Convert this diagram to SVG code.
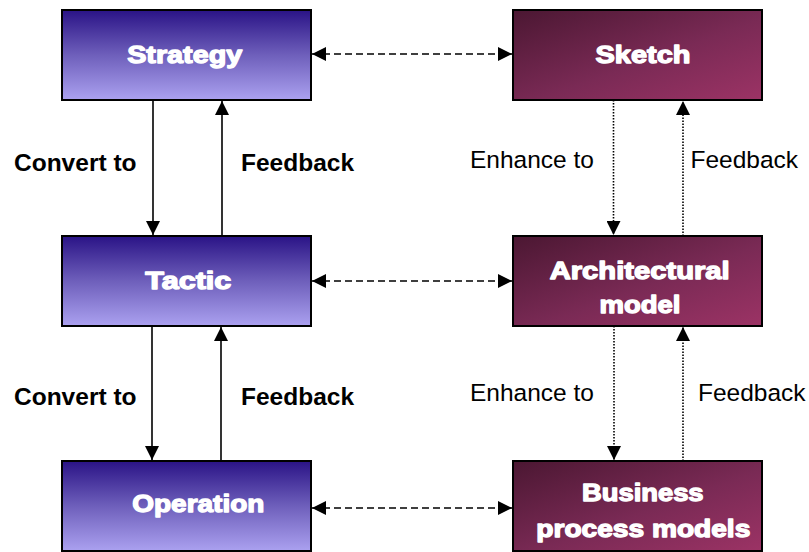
<svg xmlns="http://www.w3.org/2000/svg" width="809" height="552" viewBox="0 0 809 552">
<defs>
<linearGradient id="gBlue" x1="0" y1="0" x2="0" y2="1">
<stop offset="0" stop-color="#2a1386"/>
<stop offset="0.5" stop-color="#6e5fbb"/>
<stop offset="1" stop-color="#aba1f0"/>
</linearGradient>
<linearGradient id="gRed" x1="0" y1="0" x2="1" y2="1">
<stop offset="0" stop-color="#4b1732"/>
<stop offset="0.55" stop-color="#7a2a55"/>
<stop offset="1" stop-color="#9c3365"/>
</linearGradient>
<marker id="ah" viewBox="0 0 14 14" refX="14" refY="7" markerWidth="14" markerHeight="14" markerUnits="userSpaceOnUse" orient="auto-start-reverse">
<path d="M0,0 L14,7 L0,14 Z" fill="#000"/>
</marker>
<style>
.boxB{fill:url(#gBlue);stroke:#000;stroke-width:2}
.boxR{fill:url(#gRed);stroke:#000;stroke-width:2}
.bt{font-family:"Liberation Sans",Arial,sans-serif;font-weight:bold;font-size:23.5px;fill:#fff;stroke:#fff;stroke-width:1.3;stroke-linejoin:round;text-anchor:middle}
.lb{font-family:"Liberation Sans",Arial,sans-serif;font-weight:bold;font-size:24.5px;fill:#000}
.lr{font-family:"Liberation Sans",Arial,sans-serif;font-size:24.5px;fill:#000}
.solid{stroke:#000;stroke-width:1.6;fill:none}
.dash{stroke:#000;stroke-width:1.6;fill:none;stroke-dasharray:7 4}
.dot{stroke:#000;stroke-width:1.6;fill:none;stroke-dasharray:1.5 1.5}
</style>
</defs>
<rect width="809" height="552" fill="#fff"/>
<g id="connectors">
<line class="solid" x1="153" y1="100" x2="153" y2="235" marker-end="url(#ah)"/>
<line class="solid" x1="222" y1="236" x2="222" y2="101" marker-end="url(#ah)"/>
<line class="solid" x1="152" y1="326" x2="152" y2="460" marker-end="url(#ah)"/>
<line class="solid" x1="221" y1="461" x2="221" y2="327" marker-end="url(#ah)"/>
<line class="dot" x1="613.5" y1="100" x2="613.5" y2="235" marker-end="url(#ah)"/>
<line class="dot" x1="683" y1="236" x2="683" y2="101" marker-end="url(#ah)"/>
<line class="dot" x1="614" y1="326" x2="614" y2="460" marker-end="url(#ah)"/>
<line class="dot" x1="683" y1="461" x2="683" y2="327" marker-end="url(#ah)"/>
<line class="dash" x1="312" y1="54" x2="512" y2="54" marker-start="url(#ah)" marker-end="url(#ah)"/>
<line class="dash" x1="312" y1="281" x2="512" y2="281" marker-start="url(#ah)" marker-end="url(#ah)"/>
<line class="dash" x1="312" y1="508" x2="512" y2="508" marker-start="url(#ah)" marker-end="url(#ah)"/>
<text class="lb" x="14" y="171">Convert to</text>
<text class="lb" x="241" y="171">Feedback</text>
<text class="lr" x="470" y="168">Enhance to</text>
<text class="lr" x="690.5" y="168">Feedback</text>
<text class="lb" x="14" y="405">Convert to</text>
<text class="lb" x="241" y="405">Feedback</text>
<text class="lr" x="470" y="401">Enhance to</text>
<text class="lr" x="698" y="401">Feedback</text>
</g>
<g id="strategy">
<rect class="boxB" x="62" y="10" width="249" height="90"/>
<text class="bt" x="184.7" y="63" textLength="115" lengthAdjust="spacingAndGlyphs">Strategy</text>
</g>
<g id="tactic">
<rect class="boxB" x="62" y="236" width="249" height="90"/>
<text class="bt" x="188.3" y="289" textLength="86" lengthAdjust="spacingAndGlyphs">Tactic</text>
</g>
<g id="operation">
<rect class="boxB" x="62" y="461" width="249" height="90"/>
<text class="bt" x="198.3" y="512" textLength="132" lengthAdjust="spacingAndGlyphs">Operation</text>
</g>
<g id="sketch">
<rect class="boxR" x="513" y="10" width="249" height="90"/>
<text class="bt" x="643" y="63" textLength="95" lengthAdjust="spacingAndGlyphs">Sketch</text>
</g>
<g id="architectural-model">
<rect class="boxR" x="513" y="236" width="249" height="90"/>
<text class="bt" x="639.7" y="278.5" textLength="180" lengthAdjust="spacingAndGlyphs">Architectural</text>
<text class="bt" x="640" y="312.7" textLength="81" lengthAdjust="spacingAndGlyphs">model</text>
</g>
<g id="business-process-models">
<rect class="boxR" x="513" y="461" width="249" height="90"/>
<text class="bt" x="642.8" y="500.7" textLength="121.5" lengthAdjust="spacingAndGlyphs">Business</text>
<text class="bt" x="643.3" y="536.7" textLength="214" lengthAdjust="spacingAndGlyphs">process models</text>
</g>
</svg>
